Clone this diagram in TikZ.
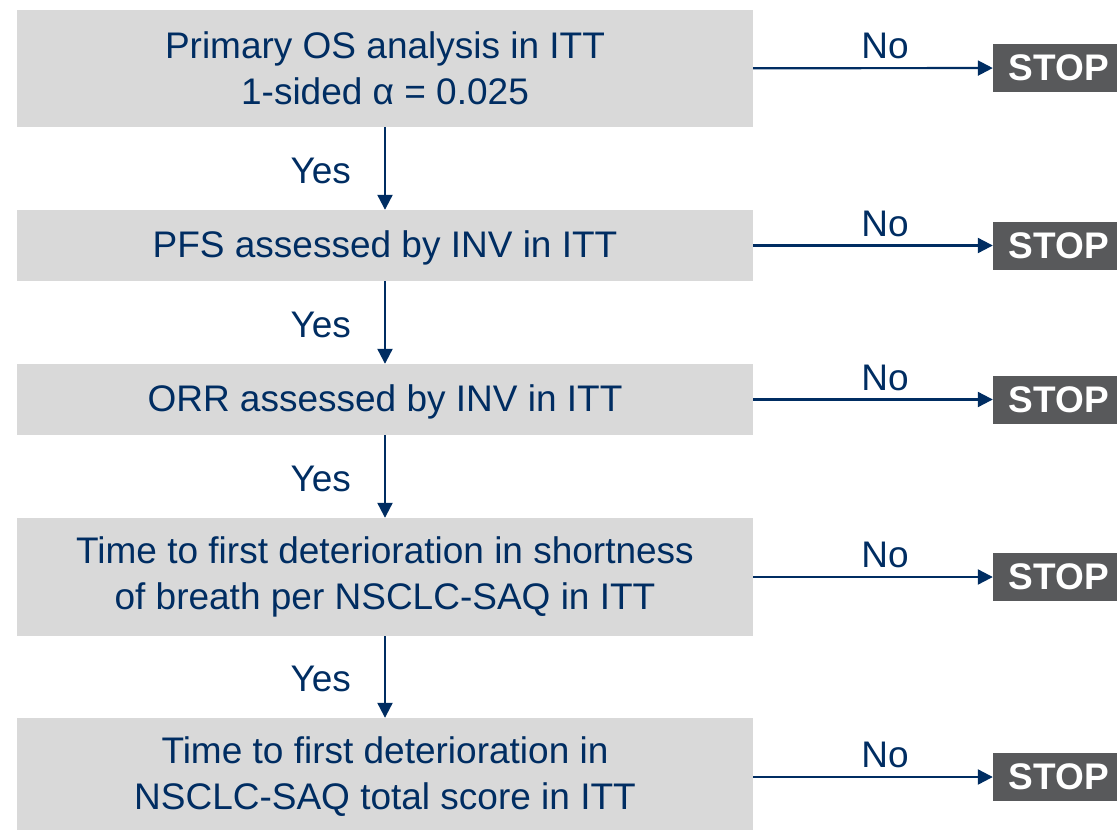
\documentclass[tikz,border=0pt]{standalone}
\usepackage{fontspec}
\setmainfont{Liberation Sans}
\usetikzlibrary{arrows.meta}
\definecolor{navy}{HTML}{002D62}
\definecolor{boxgrey}{HTML}{D9D9D9}
\definecolor{stopgrey}{HTML}{58595B}
\begin{document}
\begin{tikzpicture}[x=1pt,y=-1pt,
  test/.style={fill=boxgrey,minimum width=736pt,inner sep=0pt,align=center,text=navy,font=\fontsize{37}{46}\selectfont},
  stopbox/.style={fill=stopgrey,minimum width=132pt,minimum height=48pt,inner sep=0pt,text=white,font=\fontsize{37}{43}\selectfont\bfseries},
  flow/.style={draw=navy,line width=2.2pt,-{Triangle[length=15pt,width=15pt]}},
  lbl/.style={inner sep=0pt,text=navy,font=\fontsize{37}{43}\selectfont}]
\useasboundingbox (0,0) rectangle (1117,830);

% hierarchy of tests
\node[test,minimum height=117pt] (os) at (385,68.5) {Primary OS analysis in ITT\\1-sided α = 0.025};
\node[test,minimum height=71pt,text depth=2pt] (pfs) at (385,245.5) {PFS assessed by INV in ITT};
\node[test,minimum height=71pt,text depth=2pt] (orr) at (385,399.5) {ORR assessed by INV in ITT};
\node[test,minimum height=118pt] (sob) at (385,577) {Time to first deterioration in shortness\\of breath per NSCLC-SAQ in ITT};
\node[test,minimum height=118pt] (tot) at (385,777) {Time to first deterioration in\\NSCLC-SAQ total score in ITT};

% stop boxes
\node[stopbox] (stop1) at (1059,68) {STOP};
\node[stopbox] (stop2) at (1059,245.5) {STOP};
\node[stopbox] (stop3) at (1059,399.5) {STOP};
\node[stopbox] (stop4) at (1059,577) {STOP};
\node[stopbox] (stop5) at (1059,777) {STOP};

% yes branches
\draw[flow] (os) -- node[lbl,left=33pt,yshift=-2pt] {Yes} (pfs);
\draw[flow] (pfs) -- node[lbl,left=33pt,yshift=-2pt] {Yes} (orr);
\draw[flow] (orr) -- node[lbl,left=33pt,yshift=-2pt] {Yes} (sob);
\draw[flow] (sob) -- node[lbl,left=33pt,yshift=-2pt] {Yes} (tot);

% no branches
\draw[flow] (os) -- node[lbl,above=8pt,pos=0.55] {No} (stop1);
\draw[flow] (pfs) -- node[lbl,above=8pt,pos=0.55] {No} (stop2);
\draw[flow] (orr) -- node[lbl,above=8pt,pos=0.55] {No} (stop3);
\draw[flow] (sob) -- node[lbl,above=8pt,pos=0.55] {No} (stop4);
\draw[flow] (tot) -- node[lbl,above=8pt,pos=0.55] {No} (stop5);
\end{tikzpicture}
\end{document}
